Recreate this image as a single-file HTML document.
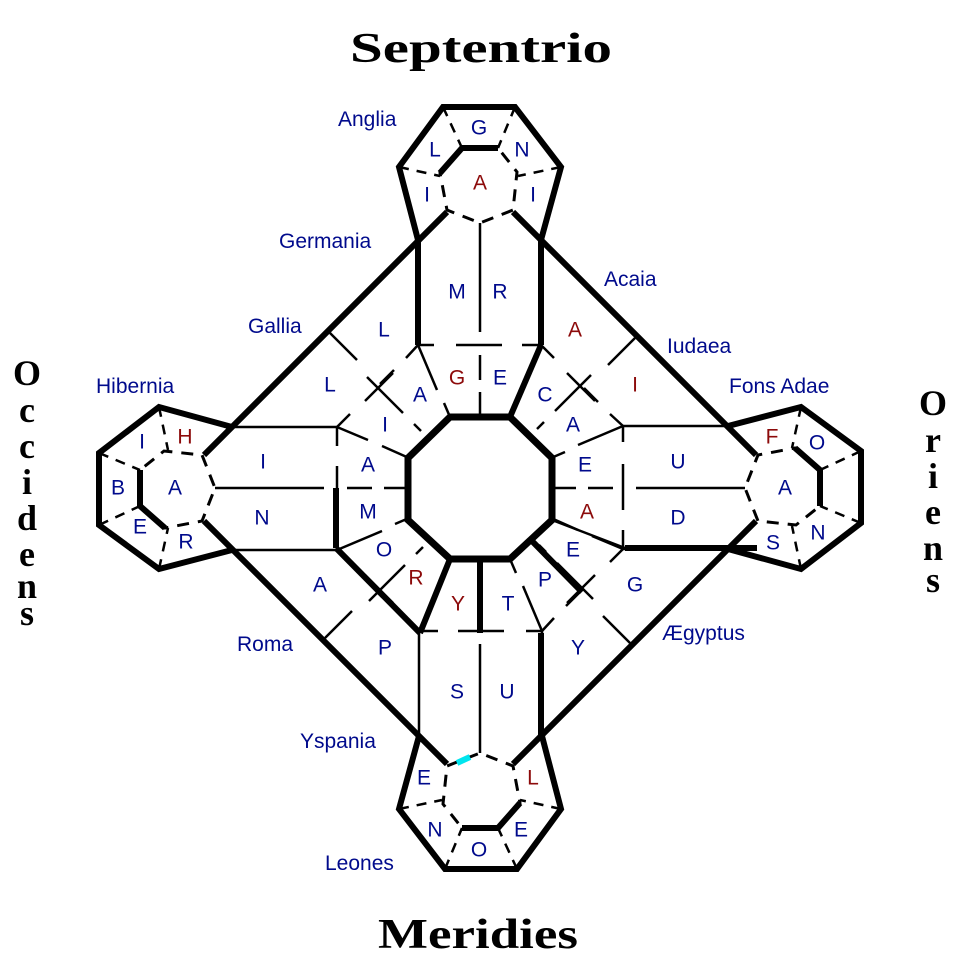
<!DOCTYPE html>
<html><head><meta charset="utf-8"><style>
html,body{margin:0;padding:0;background:#fff}
svg{display:block}
.n{fill:#000a8c;font-family:"Liberation Sans",sans-serif;font-size:21px}
.r{fill:#8c0a0a;font-family:"Liberation Sans",sans-serif;font-size:21px}
.t{fill:#000;font-family:"Liberation Serif",serif;font-weight:bold;font-size:42px}
</style></head><body>
<svg width="960" height="967" viewBox="0 0 960 967" xmlns="http://www.w3.org/2000/svg">
<defs>
<g id="q" fill="none" stroke="#000" stroke-linecap="butt">
  <polyline points="418,240 399,167 443,107 515,107 561,167 541,240" stroke-width="6"/>
  <line x1="418" y1="240" x2="418" y2="345" stroke-width="2.5"/>
  <line x1="541" y1="240" x2="541" y2="345" stroke-width="2.5"/>
  <line x1="541" y1="345" x2="528" y2="376" stroke-width="2.5"/>
  <line x1="522" y1="390" x2="510" y2="417" stroke-width="2.5"/>
  <line x1="447" y1="212" x2="204" y2="455" stroke-width="6"/>
  <polyline points="440,173 462,148 498,148" stroke-width="6"/>
  <polygon points="462,148 498,148 517,172 513,210 480,223 447,210 440,173" stroke-width="3" stroke-dasharray="12,9"/>
  <g stroke-width="2.5" stroke-dasharray="10,8">
    <line x1="443" y1="107" x2="462" y2="148"/>
    <line x1="515" y1="107" x2="498" y2="148"/>
    <line x1="399" y1="167" x2="440" y2="176"/>
    <line x1="561" y1="167" x2="518" y2="176"/>
  </g>
  <g stroke-width="2.5">
    <line x1="480" y1="223" x2="480" y2="332"/>
    <line x1="480" y1="355" x2="480" y2="380"/>
    <line x1="480" y1="392" x2="480" y2="417"/>
    <line x1="418" y1="345" x2="434" y2="345"/>
    <line x1="456" y1="345" x2="502" y2="345"/>
    <line x1="522" y1="345" x2="541" y2="345"/>
    <line x1="418" y1="345" x2="437" y2="390"/>
    <line x1="444" y1="403" x2="450" y2="417"/>
    <line x1="418" y1="345" x2="406" y2="358"/>
    <line x1="394" y1="370" x2="380" y2="384"/>
    <line x1="541" y1="345" x2="554" y2="358"/>
    <line x1="330" y1="333" x2="357" y2="360"/>
    <line x1="367" y1="377" x2="403" y2="413"/>
    <line x1="414" y1="424" x2="421" y2="431"/>
    <line x1="365" y1="401" x2="393" y2="373"/>
  </g>
</g>
</defs>
<use href="#q"/>
<use href="#q" transform="rotate(-90 480 488)"/>
<use href="#q" transform="rotate(180 480 488)"/>
<use href="#q" transform="rotate(90 480 488)"/>
<g stroke="#000" stroke-width="2.5" fill="none">
  <line x1="552" y1="520" x2="625" y2="548"/>
</g>
<g stroke="#000" stroke-width="6" fill="none">
  <line x1="418" y1="238" x2="418" y2="345"/>
  <line x1="541" y1="238" x2="541" y2="345"/>
  <line x1="541" y1="345" x2="510" y2="417"/>
  <line x1="336" y1="488" x2="336" y2="548"/>
  <line x1="336" y1="548" x2="420" y2="633"/>
  <line x1="450" y1="559" x2="420" y2="633"/>
  <line x1="480" y1="559" x2="480" y2="633"/>
  <line x1="531" y1="540" x2="582" y2="592"/>
  <line x1="541" y1="633" x2="541" y2="736"/>
  <line x1="625" y1="548" x2="757" y2="548"/>
</g>
<polygon points="450,417 510,417 552,458 552,520 510,559 450,559 408,520 408,458" fill="none" stroke="#000" stroke-width="7"/>
<line x1="457" y1="763" x2="470" y2="757" stroke="#00e5ee" stroke-width="6"/>

<text class="t" x="350" y="62" textLength="262" lengthAdjust="spacingAndGlyphs">Septentrio</text>
<text class="t" x="378" y="948" textLength="200" lengthAdjust="spacingAndGlyphs">Meridies</text>
<g class="t" text-anchor="middle" style="font-size:36px">
<text x="27" y="385">O</text><text x="27" y="422">c</text><text x="27" y="458">c</text><text x="27" y="494">i</text><text x="27" y="530">d</text><text x="27" y="566">e</text><text x="27" y="598">n</text><text x="27" y="625">s</text>
<text x="933" y="415">O</text><text x="933" y="452">r</text><text x="933" y="488">i</text><text x="933" y="524">e</text><text x="933" y="560">n</text><text x="933" y="592">s</text>
</g>

<g class="n">
<text x="338" y="126">Anglia</text><text x="279" y="248">Germania</text><text x="248" y="333">Gallia</text>
<text x="96" y="393">Hibernia</text><text x="604" y="286">Acaia</text><text x="667" y="353">Iudaea</text>
<text x="729" y="393">Fons Adae</text><text x="237" y="651">Roma</text><text x="662" y="640">Ægyptus</text>
<text x="300" y="748">Yspania</text><text x="325" y="870">Leones</text>
</g>
<g class="n" text-anchor="middle" dominant-baseline="central">
<text x="479" y="128">G</text><text x="435" y="150">L</text><text x="522" y="150">N</text>
<text x="427" y="195">I</text><text x="533" y="195">I</text>
<text x="457" y="292">M</text><text x="500" y="292">R</text><text x="384" y="330">L</text>
<text x="330" y="385">L</text><text x="500" y="378">E</text><text x="420" y="395">A</text><text x="545" y="395">C</text>
<text x="385" y="425">I</text><text x="573" y="425">A</text><text x="142" y="442">I</text><text x="263" y="462">I</text>
<text x="678" y="462">U</text><text x="368" y="465">A</text><text x="585" y="465">E</text><text x="817" y="443">O</text>
<text x="118" y="488">B</text><text x="175" y="488">A</text><text x="785" y="488">A</text><text x="368" y="512">M</text>
<text x="262" y="518">N</text><text x="678" y="518">D</text><text x="140" y="527">E</text><text x="186" y="542">R</text>
<text x="384" y="550">O</text><text x="573" y="550">E</text><text x="773" y="543">S</text><text x="818" y="533">N</text>
<text x="508" y="604">T</text><text x="545" y="580">P</text><text x="635" y="585">G</text><text x="320" y="585">A</text>
<text x="385" y="648">P</text><text x="578" y="648">Y</text><text x="457" y="692">S</text><text x="507" y="692">U</text>
<text x="424" y="778">E</text><text x="435" y="830">N</text><text x="521" y="830">E</text><text x="479" y="850">O</text>
</g>
<g class="r" text-anchor="middle" dominant-baseline="central">
<text x="480" y="183">A</text><text x="575" y="330">A</text><text x="457" y="378">G</text><text x="635" y="385">I</text>
<text x="185" y="437">H</text><text x="772" y="437">F</text><text x="587" y="512">A</text><text x="416" y="578">R</text>
<text x="458" y="604">Y</text><text x="533" y="778">L</text>
</g>
</svg>
</body></html>
